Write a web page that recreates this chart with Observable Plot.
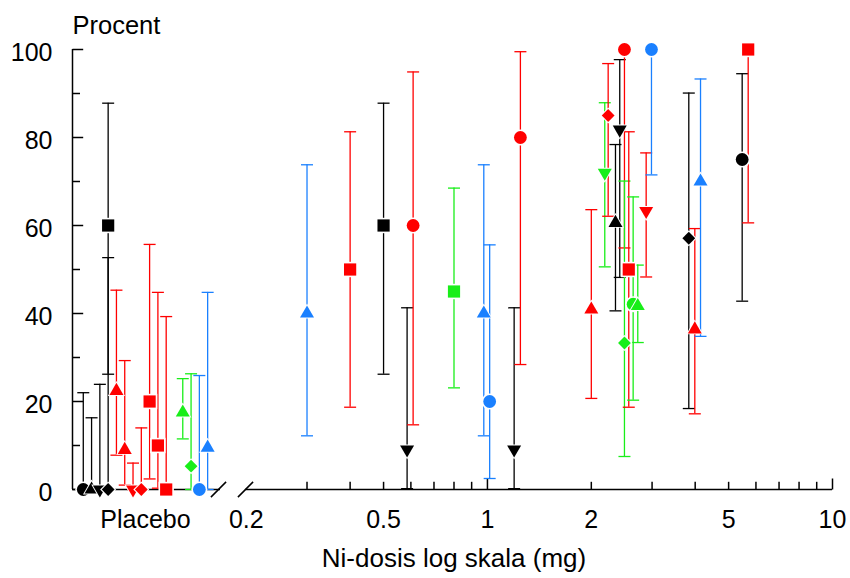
<!DOCTYPE html>
<html>
<head>
<meta charset="utf-8">
<script src="https://cdn.jsdelivr.net/npm/d3@7"></script>
<script src="https://cdn.jsdelivr.net/npm/@observablehq/plot@0.6"></script>
<style>
  body { margin: 0; background: #fff; }
  #chart { position: relative; width: 850px; height: 578px; font-family: "Liberation Sans", Arial, sans-serif; }
  #chart svg { position: absolute; top: 0; }
  #xtitle { position: absolute; left: 254px; width: 400px; top: 542px; text-align: center; font-size: 26px; line-height: 32px; color: #000; }
</style>
</head>
<body>
<div id="chart"></div>
<script>
// ---------- data ----------
// Placebo group: slot index along the placebo section
const placeboSlot   = [0, 1, 2, 3, 3, 4, 5, 6, 7, 8, 9, 10, 12, 13, 14, 15];
const placeboColor  = ["black","black","black","black","black","red","red","red","red","red","red","red","green","green","blue","blue"];
const placeboShape  = ["circle","triangle","down","diamond","square","triangle","triangle","down","diamond","square","square","square","triangle","diamond","circle","triangle"];
const placeboValue  = [0, 0, 0, 0, 60, 22.4, 9.0, 0, 0, 20, 10, 0, 17.5, 5.3, 0, 9.5];
const placeboLow    = [0, 0, 0, 0, 26.2, 7.8, 1.0, 0, 0, 2.4, 0.3, 0, 11.5, 0, 0, 0];
const placeboHigh   = [22.0, 16.3, 23.9, 52.7, 87.8, 45.3, 29.3, 6.0, 14.0, 55.7, 44.8, 39.3, 25.2, 26.3, 25.9, 44.8];
const placeboLabel  = "Placebo";

// Dose group (mg, log scale)
const doseMg    = [0.3, 0.4, 0.5, 0.585, 0.609, 0.8, 0.976, 1.015, 1.195, 1.246, 2.0, 2.188, 2.238, 2.35, 2.418, 2.495, 2.495, 2.568, 2.644, 2.727, 2.884, 2.988, 3.833, 3.99, 4.145, 5.473, 5.697];
const doseColor = ["blue","red","black","black","red","green","blue","blue","black","red","red","green","red","black","black","red","green","red","green","green","red","blue","black","red","blue","black","red"];
const doseShape = ["triangle","square","square","down","circle","square","triangle","circle","down","circle","triangle","down","diamond","triangle","down","circle","diamond","square","circle","triangle","down","circle","diamond","triangle","triangle","circle","square"];
const doseValue = [40, 50, 60, 9.1, 60, 45, 40, 20, 9.1, 80, 40.9, 72, 85, 60.6, 81.8, 100, 33.3, 50, 42.1, 41.7, 63.3, 100, 57.1, 36.4, 70, 75, 100];
const doseLow   = [12.2, 18.7, 26.2, 0.2, 14.7, 23.1, 12.2, 2.5, 0.2, 28.4, 20.7, 50.6, 62.1, 40.6, 48.2, 54.9, 7.5, 18.7, 20.3, 33.4, 48.3, 71.5, 18.4, 17.2, 34.8, 42.8, 60.6];
const doseHigh  = [73.8, 81.3, 87.8, 41.3, 94.9, 68.5, 73.8, 55.6, 41.3, 99.5, 63.6, 87.9, 96.8, 78.4, 97.7, 100, 70.1, 81.3, 66.5, 51.0, 76.5, 100, 90.1, 59.3, 93.3, 94.5, 100];

// axes
const yMajorTicks = [0, 20, 40, 60, 80, 100];
const yMinorTicks = [10, 30, 50, 70, 90];
const xTickLabels = [0.2, 0.5, 1, 2, 5, 10];
const xMinorTicks = [0.3, 0.4, 0.5, 0.6, 0.7, 0.8, 0.9, 2, 3, 4, 5, 6, 7, 8, 9];
const xDecadeTicks = [1, 10];
const placeboDomain = [-1.3, 16.55];
const doseDomain = [0.199, 10];

const palette = {black: "#000000", red: "#ff0000", green: "#19ee19", blue: "#1a80ff"};

// ---------- symbols (half-extent = r) ----------
const h = s => Math.sqrt(s / Math.PI);
const sym = {
  square:  {draw(c, s) { const r = h(s); c.rect(-r, -r, 2 * r, 2 * r); }},
  circle:  {draw(c, s) { const r = h(s); c.moveTo(r, 0); c.arc(0, 0, r, 0, 2 * Math.PI); }},
  diamond: {draw(c, s) { const r = h(s); c.moveTo(0, -r); c.lineTo(r, 0); c.lineTo(0, r); c.lineTo(-r, 0); c.closePath(); }},
  triangle:{draw(c, s) { const r = h(s), H = Math.sqrt(3) * r; c.moveTo(0, -H * 2 / 3); c.lineTo(r, H / 3); c.lineTo(-r, H / 3); c.closePath(); }},
  down:    {draw(c, s) { const r = h(s), H = Math.sqrt(3) * r; c.moveTo(0, H * 2 / 3); c.lineTo(r, -H / 3); c.lineTo(-r, -H / 3); c.closePath(); }}
};
const capSym   = {draw(c, s) { const r = h(s); c.moveTo(-r, 0); c.lineTo(r, 0); }};
const tickRight= {draw(c, s) { const r = h(s); c.moveTo(0, 0); c.lineTo(r, 0); }};
const tickUp   = {draw(c, s) { const r = h(s); c.moveTo(0, 0); c.lineTo(0, -r); }};
const slashSym = {draw(c, s) { const r = h(s); c.moveTo(-r, r); c.lineTo(r, -r); }};
const symSize = {square: 6.1, circle: 6.4, diamond: 6.4, triangle: 7, down: 7};

// ---------- tables ----------
const placebo = placeboSlot.map((x, i) => ({x, color: placeboColor[i], shape: placeboShape[i], v: placeboValue[i], lo: placeboLow[i], hi: placeboHigh[i]}));
const dose = doseMg.map((x, i) => ({x, color: doseColor[i], shape: doseShape[i], v: doseValue[i], lo: doseLow[i], hi: doseHigh[i]}));

function seriesMarks(data) {
  const marks = [];
  for (const d of data) {
    const col = palette[d.color];
    marks.push(Plot.ruleX([d], {x: "x", y1: "lo", y2: "hi", stroke: col, strokeWidth: 1.3}));
    marks.push(Plot.dot([d, d], {x: "x", y: (e, j) => j === 0 ? e.lo : e.hi, symbol: capSym, r: 6, stroke: col, strokeWidth: 1.3}));
  }
  for (const d of data) {
    const col = palette[d.color];
    const r = symSize[d.shape];
    marks.push(Plot.dot([d], {x: "x", y: "v", symbol: sym[d.shape], r: r + 1.6, fill: "white"}));
    marks.push(Plot.dot([d], {x: "x", y: "v", symbol: sym[d.shape], r, fill: col}));
  }
  return marks;
}

const common = {
  height: 578, marginTop: 49, marginBottom: 89,
  style: {fontFamily: '"Liberation Sans", Arial, sans-serif', fontSize: "25px", background: "transparent", overflow: "visible", color: "black"}
};

const left = Plot.plot({
  ...common,
  width: 232, marginLeft: 72, marginRight: 12,
  x: {type: "linear", domain: placeboDomain},
  y: {domain: [0, 100]},
  marks: [
    Plot.ruleX([placeboDomain[0]], {stroke: "black", strokeWidth: 1.5}),
    Plot.ruleY([0], {stroke: "black", strokeWidth: 1.5}),
    Plot.dot(yMajorTicks, {y: d => d, frameAnchor: "left", symbol: tickRight, r: 10.7, stroke: "black", strokeWidth: 1.5}),
    Plot.dot(yMinorTicks, {y: d => d, frameAnchor: "left", symbol: tickRight, r: 7.5, stroke: "black", strokeWidth: 1.5}),
    Plot.axisY({ticks: yMajorTicks, tickSize: 0, tickPadding: 20, dy: 3, fontSize: 25, label: null}),
    Plot.axisX({ticks: [(placeboSlot[0] + placeboSlot[placeboSlot.length - 1]) / 2], tickFormat: () => placeboLabel, tickSize: 0, tickPadding: 21, fontSize: 25, label: null}),
    Plot.text(["Procent"], {frameAnchor: "top-left", textAnchor: "start", lineAnchor: "bottom", dy: -16, fontSize: 25.5}),
    ...seriesMarks(placebo),
    Plot.dot([0], {frameAnchor: "bottom-right", symbol: slashSym, r: 7.6, dx: -2, stroke: "black", strokeWidth: 1.5})
  ]
});

const right = Plot.plot({
  ...common,
  width: 618, marginLeft: 13, marginRight: 18,
  x: {type: "log", domain: doseDomain},
  y: {domain: [0, 100], axis: null},
  marks: [
    Plot.ruleY([0], {stroke: "black", strokeWidth: 1.5}),
    Plot.dot(xMinorTicks, {x: d => d, frameAnchor: "bottom", symbol: tickUp, r: 7.7, stroke: "black", strokeWidth: 1.5}),
    Plot.dot(xDecadeTicks, {x: d => d, frameAnchor: "bottom", symbol: tickUp, r: 11, stroke: "black", strokeWidth: 1.5}),
    Plot.axisX({ticks: xTickLabels, tickSize: 0, tickPadding: 21, tickFormat: d => String(d), fontSize: 25, label: null}),
    ...seriesMarks(dose),
    Plot.dot([0], {frameAnchor: "bottom-left", symbol: slashSym, r: 7.6, stroke: "black", strokeWidth: 1.5})
  ]
});

const chart = document.getElementById("chart");
left.style.left = "0px";
right.style.left = "232px";
chart.appendChild(right);
chart.appendChild(left);
const title = document.createElement("div");
title.id = "xtitle";
title.textContent = "Ni-dosis log skala (mg)";
chart.appendChild(title);
</script>
</body>
</html>
